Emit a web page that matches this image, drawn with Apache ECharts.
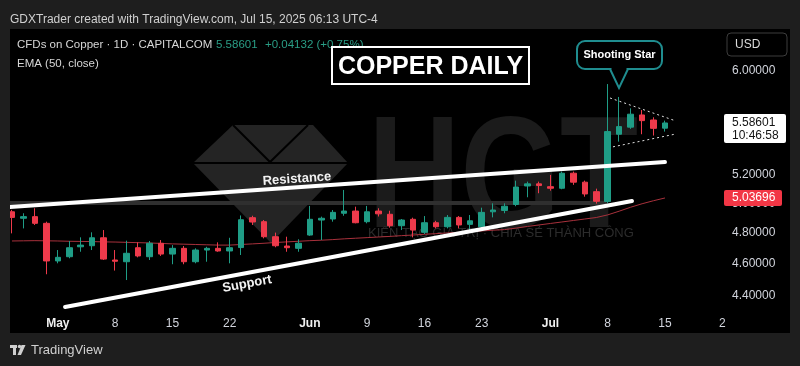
<!DOCTYPE html>
<html>
<head>
<meta charset="utf-8">
<style>
html,body{margin:0;padding:0;background:#1e1e1e;}
#c{width:800px;height:366px;}
</style>
<script src="https://cdn.jsdelivr.net/npm/echarts@6/dist/echarts.min.js"></script>
</head>
<body>
<div id="c"></div>
<script>
// ---------- data ----------
const dates = ['2025-04-25','2025-04-28','2025-04-29','2025-04-30','2025-05-01','2025-05-02',
 '2025-05-05','2025-05-06','2025-05-07','2025-05-08','2025-05-09',
 '2025-05-12','2025-05-13','2025-05-14','2025-05-15','2025-05-16',
 '2025-05-19','2025-05-20','2025-05-21','2025-05-22','2025-05-23',
 '2025-05-26','2025-05-27','2025-05-28','2025-05-29','2025-05-30',
 '2025-06-02','2025-06-03','2025-06-04','2025-06-05','2025-06-06',
 '2025-06-09','2025-06-10','2025-06-11','2025-06-12','2025-06-13',
 '2025-06-16','2025-06-17','2025-06-18','2025-06-19','2025-06-20',
 '2025-06-23','2025-06-24','2025-06-25','2025-06-26','2025-06-27',
 '2025-06-30','2025-07-01','2025-07-02','2025-07-03','2025-07-04',
 '2025-07-07','2025-07-08','2025-07-09','2025-07-10','2025-07-11',
 '2025-07-14','2025-07-15',
 '2025-07-16','2025-07-17','2025-07-18','2025-07-21','2025-07-22'];

const opens  = [4.942,4.898,4.909,4.864,4.618,4.645,4.709,4.716,4.768,4.624,4.613,4.703,4.645,4.732,4.662,4.699,4.613,4.688,4.699,4.682,4.704,4.902,4.875,4.775,4.714,4.699,4.786,4.886,4.893,4.932,4.947,4.875,4.947,4.925,4.848,4.891,4.804,4.868,4.841,4.904,4.857,4.841,4.942,4.951,4.992,5.121,5.136,5.116,5.105,5.212,5.148,5.081,5.013,5.500,5.554,5.648,5.609,5.546];
const closes = [4.904,4.909,4.864,4.618,4.641,4.703,4.720,4.768,4.630,4.616,4.667,4.650,4.732,4.662,4.699,4.613,4.688,4.699,4.682,4.703,4.888,4.873,4.775,4.716,4.703,4.732,4.891,4.898,4.938,4.947,4.868,4.942,4.928,4.848,4.886,4.819,4.868,4.841,4.904,4.853,4.881,4.938,4.954,4.980,5.114,5.136,5.124,5.105,5.212,5.148,5.065,5.014,5.520,5.558,5.654,5.604,5.54469,5.58601];
const lows   = [4.797,4.830,4.853,4.534,4.603,4.635,4.677,4.688,4.624,4.557,4.498,4.641,4.624,4.650,4.597,4.597,4.603,4.613,4.677,4.603,4.656,4.853,4.764,4.706,4.677,4.677,4.781,4.753,4.875,4.915,4.864,4.864,4.910,4.835,4.819,4.771,4.793,4.830,4.830,4.830,4.808,4.819,4.904,4.932,4.980,5.042,5.070,5.088,5.098,5.129,5.046,4.998,5.002,5.444,5.541,5.500,5.490,5.520];
const highs  = [4.955,4.932,4.966,4.875,4.688,4.747,4.771,4.804,4.819,4.688,4.749,4.738,4.747,4.753,4.720,4.714,4.699,4.709,4.738,4.768,4.917,4.915,4.886,4.802,4.775,4.758,4.982,4.909,4.954,5.093,4.977,4.982,4.966,4.949,4.893,4.902,4.913,4.881,4.920,4.913,4.920,4.970,5.000,5.000,5.159,5.152,5.152,5.200,5.224,5.224,5.159,5.102,5.894,5.790,5.700,5.687,5.630,5.604];
const ema50  = [4.747,4.748,4.749,4.748,4.747,4.745,4.744,4.743,4.741,4.740,4.738,4.736,4.734,4.731,4.728,4.726,4.724,4.722,4.720,4.720,4.724,4.728,4.732,4.737,4.741,4.745,4.749,4.752,4.756,4.761,4.765,4.769,4.773,4.777,4.782,4.786,4.791,4.795,4.800,4.804,4.809,4.813,4.818,4.822,4.832,4.843,4.853,4.863,4.873,4.883,4.893,4.903,4.921,4.946,4.973,4.997,5.018,5.03696];

// x tick labels
const tickDates  = ['2025-05-01','2025-05-08','2025-05-15','2025-05-22','2025-06-02','2025-06-09','2025-06-16','2025-06-23','2025-07-01','2025-07-08','2025-07-15','2025-07-22'];
const tickTexts  = ['May','8','15','22','Jun','9','16','23','Jul','8','15','2'];
const monthTicks = ['May','Jun','Jul'];
// y tick labels (log price scale)
const priceTicks = [4.4,4.6,4.8,5.0,5.2,6.0];
const yMinPrice = 4.304, yMaxPrice = 6.359;

// annotation lines: [index, price]
const resistance = [[-0.175,4.975],[57,5.293]];
const support    = [[4.63,4.334],[54.12,5.016]];
const pennantTop = [[52.2,5.782],[57.96,5.601]];
const pennantBot = [[52.46,5.405],[57.96,5.502]];

const lastPrice = 5.58601, emaLast = 5.03696;

// ---------- chart ----------
const ln = Math.log;
const UP = '#1f9d86', DOWN = '#ee3a4b';
const chart = echarts.init(document.getElementById('c'), null, {renderer:'canvas'});

const candleData = opens.map((o,i)=>[ln(o), ln(closes[i]), ln(lows[i]), ln(highs[i])]);
const lnPts = arr => arr.map(p=>[p[0], ln(p[1])]);

function annLine(pts, style){
  return {type:'line', xAxisIndex:1, yAxisIndex:0, data: lnPts(pts), symbol:'none', silent:true,
          lineStyle: style, z:6, animation:false};
}
const F = 'Liberation Sans, Arial, sans-serif';

const option = {
  backgroundColor:'#1e1e1e',
  animation:false,
  grid:{left:6.27, right:72, top:29, bottom:54, containLabel:false},
  xAxis:[{
    type:'category', data:dates, boundaryGap:true,
    axisLine:{show:false}, axisTick:{show:false}, splitLine:{show:false},
    axisLabel:{
      interval:0, margin:6, color:'#d1d4dc', fontSize:12, fontFamily:F,
      formatter:function(v){
        const k = tickDates.indexOf(v);
        if(k<0) return '';
        const t = tickTexts[k];
        return monthTicks.indexOf(t)>=0 ? '{m|'+t+'}' : t;
      },
      rich:{m:{fontWeight:'bold', color:'#f0f0f0', fontSize:12, fontFamily:F}}
    }
  },{
    type:'value', min:-0.5, max:62.5, show:false
  }],
  yAxis:{
    type:'value', position:'right', min:ln(yMinPrice), max:ln(yMaxPrice),
    splitLine:{show:false}, axisLine:{show:false}, axisTick:{show:false},
    axisLabel:{
      customValues: priceTicks.map(ln),
      formatter: v => Math.exp(v).toFixed(5),
      color:'#d1d4dc', fontSize:12, margin:4, fontFamily:F
    }
  },
  series:[
    {type:'line', name:'EMA', data: ema50.map(ln), symbol:'none', silent:true,
     lineStyle:{color:'#a8313c', width:1}, z:2},
    {type:'candlestick', data:candleData, barWidth:6, z:3,
     itemStyle:{color:UP, color0:DOWN, borderColor:UP, borderColor0:DOWN, borderWidth:1}},
    annLine(resistance, {color:'#ffffff', width:4, cap:'round'}),
    annLine(support, {color:'#ffffff', width:4, cap:'round'}),
    annLine(pennantTop, {color:'#e0e0e0', width:1, type:[2,3]}),
    annLine(pennantBot, {color:'#e0e0e0', width:1, type:[2,3]})
  ]
};
chart.setOption(option);

// ---------- decorations ----------
const yLast = chart.convertToPixel({yAxisIndex:0}, ln(lastPrice));
const yEma  = chart.convertToPixel({yAxisIndex:0}, ln(emaLast));

const graphics = [
  // black panel
  {type:'rect', z:-10, silent:true, shape:{x:10,y:29,width:780,height:304}, style:{fill:'#000000'}},
  // watermark band
  {type:'rect', z:-5, silent:true, shape:{x:10,y:201,width:596,height:4}, style:{fill:'#2f2f2f'}},
  // diamond logo
  {type:'polygon', z:-6, silent:true, shape:{points:[[193,163],[233,125],[313,125],[348,163],[271,243]]}, style:{fill:'#242424'}},
  {type:'polyline', z:-5, silent:true, shape:{points:[[193,163],[348,163]]}, style:{stroke:'#000',lineWidth:2}},
  {type:'polyline', z:-5, silent:true, shape:{points:[[233,125],[270,162],[308,125]]}, style:{stroke:'#000',lineWidth:2, fill:null}},
  // HGT letters
  {type:'text', z:-6, silent:true, x:368, y:183, scaleX:0.8,
   style:{text:'HGT', font:'bold 160px '+F, fill:'#1b1b1b', textAlign:'left', textVerticalAlign:'middle'}},
  {type:'text', z:-5, silent:true, x:368, y:233,
   style:{text:'KIẾN TẠO GIÁ TRỊ · CHIA SẺ THÀNH CÔNG', font:'13px '+F, fill:'#2c2c2c', textAlign:'left', textVerticalAlign:'middle'}},
  // left gray margin clip
  {type:'rect', z:50, silent:true, shape:{x:0,y:29,width:10,height:304}, style:{fill:'#1e1e1e'}},
  // header texts
  {type:'text', z:60, x:10, y:20, style:{text:'GDXTrader created with TradingView.com, Jul 15, 2025 06:13 UTC-4', font:'12px '+F, fill:'#d0d0d0', textVerticalAlign:'middle'}},
  {type:'text', z:60, x:17, y:45, style:{text:'CFDs on Copper · 1D · CAPITALCOM', font:'11.5px '+F, fill:'#d6d6d6', textVerticalAlign:'middle'}},
  {type:'text', z:60, x:216, y:45, style:{text:'5.58601', font:'11.5px '+F, fill:'#2a9e86', textVerticalAlign:'middle'}},
  {type:'text', z:60, x:265, y:45, style:{text:'+0.04132 (+0.75%)', font:'11.5px '+F, fill:'#2a9e86', textVerticalAlign:'middle'}},
  {type:'text', z:60, x:17, y:64, style:{text:'EMA (50, close)', font:'11.5px '+F, fill:'#d6d6d6', textVerticalAlign:'middle'}},
  // COPPER DAILY box
  {type:'rect', z:70, shape:{x:332,y:47,width:197,height:37}, style:{fill:'#000',stroke:'#ffffff',lineWidth:2}},
  {type:'text', z:71, x:430.5, y:67, style:{text:'COPPER DAILY', font:'bold 25px '+F, fill:'#ffffff', textAlign:'center', textVerticalAlign:'middle'}},
  // Shooting Star callout
  {type:'rect', z:70, shape:{x:577,y:41,width:85,height:28,r:8}, style:{fill:'#000',stroke:'#1f8d8f',lineWidth:2}},
  {type:'polygon', z:71, shape:{points:[[610,69],[619,88],[628,69]]}, style:{fill:'#000',stroke:'#1f8d8f',lineWidth:2}},
  {type:'rect', z:72, shape:{x:611.5,y:66.5,width:15,height:3.5}, style:{fill:'#000'}},
  {type:'text', z:73, x:619.5, y:55, style:{text:'Shooting Star', font:'bold 11px '+F, fill:'#ffffff', textAlign:'center', textVerticalAlign:'middle'}},
  // line labels
  {type:'text', z:60, x:297, y:179, rotation:0.0686, style:{text:'Resistance', font:'bold 13px '+F, fill:'#f2f2f2', textAlign:'center', textVerticalAlign:'middle'}},
  {type:'text', z:60, x:247, y:284, rotation:0.185, style:{text:'Support', font:'bold 13px '+F, fill:'#f2f2f2', textAlign:'center', textVerticalAlign:'middle'}},
  // USD box
  {type:'rect', z:60, shape:{x:727,y:33,width:60,height:23,r:4}, style:{fill:'#000',stroke:'#3c3c3c',lineWidth:1}},
  {type:'text', z:61, x:735, y:45, style:{text:'USD', font:'12px '+F, fill:'#dcdcdc', textVerticalAlign:'middle'}},
  // last price box
  {type:'rect', z:60, shape:{x:724,y:yLast-9,width:62,height:29,r:2}, style:{fill:'#ffffff'}},
  {type:'text', z:61, x:732, y:yLast, style:{text:'5.58601', font:'12px '+F, fill:'#131313', textVerticalAlign:'middle'}},
  {type:'text', z:61, x:732, y:yLast+13, style:{text:'10:46:58', font:'12px '+F, fill:'#131313', textVerticalAlign:'middle'}},
  // EMA value box
  {type:'rect', z:60, shape:{x:724,y:yEma-8,width:58,height:16,r:2}, style:{fill:'#f23645'}},
  {type:'text', z:61, x:732, y:yEma, style:{text:'5.03696', font:'12px '+F, fill:'#ffffff', textVerticalAlign:'middle'}},
  // TradingView footer logo
  {type:'rect', z:60, shape:{x:10,y:345,width:7,height:3}, style:{fill:'#d0d0d0'}},
  {type:'rect', z:60, shape:{x:13,y:345,width:3,height:10}, style:{fill:'#d0d0d0'}},
  {type:'circle', z:60, shape:{cx:19.5,cy:346.5,r:1.7}, style:{fill:'#d0d0d0'}},
  {type:'polygon', z:60, shape:{points:[[21.5,345],[25.5,345],[21,355],[17.5,355]]}, style:{fill:'#d0d0d0'}},
  {type:'text', z:60, x:31, y:350, style:{text:'TradingView', font:'13px '+F, fill:'#d0d0d0', textVerticalAlign:'middle'}}
];
chart.setOption({graphic:{elements:graphics}});
</script>
</body>
</html>
